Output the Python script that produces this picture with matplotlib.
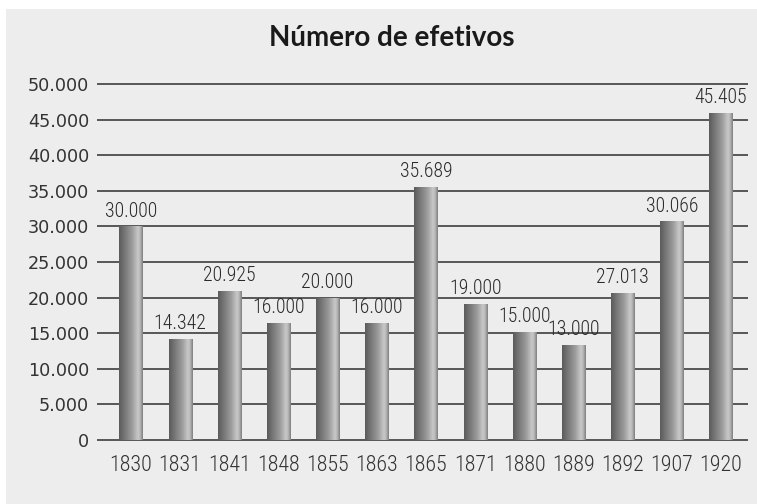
import matplotlib
matplotlib.use("Agg")
import matplotlib.pyplot as plt
import numpy as np
from matplotlib.colors import LinearSegmentedColormap
from matplotlib.patches import Rectangle

# dados
anos = ['1830', '1831', '1841', '1848', '1855', '1863', '1865',
        '1871', '1880', '1889', '1892', '1907', '1920']
alturas = [30000, 14200, 20900, 16400, 20000, 16400, 35500,
           19100, 15200, 13300, 20700, 30700, 45900]
rotulos = ['30.000', '14.342', '20.925', '16.000', '20.000', '16.000', '35.689',
           '19.000', '15.000', '13.000', '27.013', '30.066', '45.405']
yticks = [0, 5000, 10000, 15000, 20000, 25000, 30000, 35000, 40000, 45000, 50000]
ytick_labels = ['0', '5.000', '10.000', '15.000', '20.000', '25.000', '30.000',
                '35.000', '40.000', '45.000', '50.000']

fundo = '#ededed'
narrow = ['Roboto Condensed', 'DejaVu Sans']

fig = plt.figure(figsize=(7.57, 5.04), dpi=100, facecolor='white')
fig.patches.append(Rectangle((6 / 757, 0), 1, 1 - 9 / 504, transform=fig.transFigure,
                             facecolor=fundo, edgecolor='none', zorder=-5))

ax = fig.add_axes([97 / 757, 0.1199, (748 - 97) / 757, 0.7205])
ax.set_zorder(2)
ax.set_facecolor(fundo)
for s in ax.spines.values():
    s.set_visible(False)

x = np.arange(len(anos))
bars = ax.bar(x, alturas, width=0.47, color='none', edgecolor='none', zorder=3)

# gradiente "cilindro" em cada barra
cm = LinearSegmentedColormap.from_list('cil', [
    (0.0, '#5a5a5a'), (0.15, '#6c6c6c'), (0.55, '#9c9c9c'),
    (0.8, '#c9c9c9'), (0.9, '#b2b2b2'), (1.0, '#7a7a7a')])
grad = np.linspace(0, 1, 256).reshape(1, -1)
for b in bars:
    xb, w, h = b.get_x(), b.get_width(), b.get_height()
    im = ax.imshow(grad, extent=[xb, xb + w, 0, h], aspect='auto', cmap=cm,
                   zorder=3, interpolation='bicubic')
    im.set_clip_path(b)

for xi, h, lab in zip(x, alturas, rotulos):
    ax.annotate(lab, (xi, h), xytext=(0, 4.2), textcoords='offset points',
                ha='center', va='bottom', fontsize=14.2, color='#2a2a2a',
                family=narrow, fontstretch='condensed', fontweight='light')

ax.set_xlim(-0.69, 12.55)
ax.set_ylim(-500, 50500)
ax.set_aspect('auto')

ax.set_yticks(yticks)
ax.set_yticklabels(ytick_labels, fontsize=12.7, color='#333333', family='DejaVu Sans')
ax.set_xticks(x)
ax.set_xticklabels(anos, fontsize=15.8, color='#333333', family=narrow,
                   fontstretch='condensed', fontweight='light')
ax.tick_params(axis='both', length=0)
ax.tick_params(axis='y', pad=5.8)
ax.tick_params(axis='x', pad=8.5)

ax.yaxis.grid(True, color='#2e2e2e', linewidth=1.1)
ax.xaxis.grid(False)
ax.set_axisbelow(True)

fig.text(392 / 757, 1 - 38 / 504, 'Número de efetivos', ha='center', va='center',
         fontsize=20, fontweight='bold', family=['Lato', 'DejaVu Sans'], color='#1a1a1a')

fig.savefig('out.png', dpi=100, facecolor='white')
